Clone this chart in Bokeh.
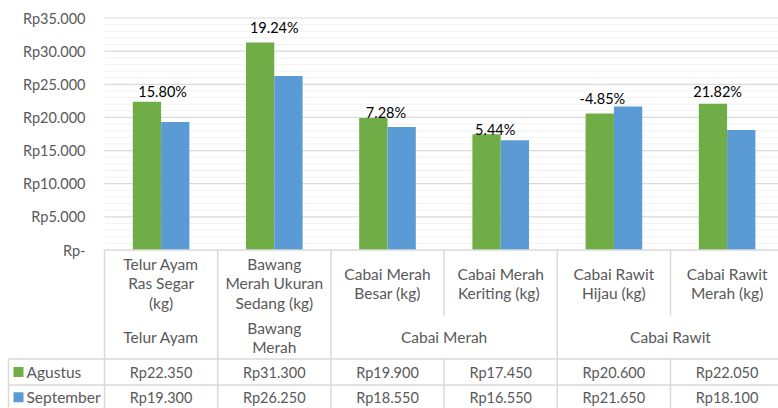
from bokeh.plotting import figure
from bokeh.models import Range1d
from bokeh.core.properties import value
from bokeh.embed import file_html
from bokeh.resources import INLINE

# --- data -------------------------------------------------------------
items = [
    "Telur Ayam\nRas Segar\n(kg)",
    "Bawang\nMerah Ukuran\nSedang (kg)",
    "Cabai Merah\nBesar (kg)",
    "Cabai Merah\nKeriting  (kg)",
    "Cabai Rawit\nHijau (kg)",
    "Cabai Rawit\nMerah (kg)",
]
item_group = [0, 1, 2, 2, 3, 3]
groups = ["Telur Ayam", "Bawang\nMerah", "Cabai Merah", "Cabai Rawit"]
series_names = ["Agustus", "September"]
agustus = [22350, 31300, 19900, 17450, 20600, 22050]
september = [19300, 26250, 18550, 16550, 21650, 18100]
y_ticks = [0, 5000, 10000, 15000, 20000, 25000, 30000, 35000]
y_tick_labels = ["Rp-", "Rp5.000", "Rp10.000", "Rp15.000", "Rp20.000",
                 "Rp25.000", "Rp30.000", "Rp35.000"]

# --- layout (pixels) ---------------------------------------------------
W, H = 778, 408
PLOT_L, CAT_W = 104, 113.2
PLOT_TOP, PLOT_BOT = 17.5, 249.5
Y_MAX = 35000
ROW_CAT_END = 315
ROW_DATA = [358.5, 384.5]
TABLE_L = 8
BAR_W = 0.25

GREEN, BLUE = "#70AD47", "#5B9BD5"
GRID_MAJOR, GRID_MINOR = "#D9D9D9", "#F2F2F2"
BORDER = "#D9D9D9"
TEXT = "#595959"
FONT = value("Lato")
NUM_SIZE = value("14.5px")
WORD_SIZE = value("15.5px")
LINE_H = 1.08

# nudges for the change labels above each pair of bars (px)
label_dx = [1.5, 0, -1.5, -5.5, -11.5, -9.5]
label_gap = [10, 15, 6, 5, 8, 12]


def px_x(px):
    return (px - PLOT_L) / CAT_W


n = len(items)
per_px = Y_MAX / (PLOT_BOT - PLOT_TOP)

p = figure(width=W, height=H, output_backend="svg", toolbar_location=None,
           x_range=Range1d(px_x(0), px_x(W)), y_range=Range1d(H, 0),
           min_border=0, x_axis_location=None, y_axis_location=None)
p.extra_y_ranges = {"val": Range1d(-(H - PLOT_BOT) * per_px,
                                   Y_MAX + PLOT_TOP * per_px)}
p.outline_line_color = None
p.xgrid.visible = False
p.ygrid.visible = False
p.background_fill_color = "white"
p.border_fill_color = "white"

# value gridlines: minor every 1000, major every 5000
minor = [v for v in range(1000, Y_MAX + 1, 1000) if v % 5000]
major = [v for v in y_ticks if v > 0]
p.segment(x0=[0] * len(minor), x1=[n] * len(minor), y0=minor, y1=minor,
          y_range_name="val", line_color=GRID_MINOR, line_width=1)
p.segment(x0=[0] * len(major), x1=[n] * len(major), y0=major, y1=major,
          y_range_name="val", line_color=GRID_MAJOR, line_width=1.2)

# bars
centers = [i + 0.5 for i in range(n)]
p.vbar(x=[c - BAR_W / 2 for c in centers], width=BAR_W, top=agustus, bottom=0,
       y_range_name="val", fill_color=GREEN, line_color=None)
p.vbar(x=[c + BAR_W / 2 for c in centers], width=BAR_W, top=september, bottom=0,
       y_range_name="val", fill_color=BLUE, line_color=None)

# month-over-month change labels
changes = ["{:.2f}%".format((a - s) / s * 100) for a, s in zip(agustus, september)]
p.text(x=centers, y=[max(a, s) for a, s in zip(agustus, september)],
       text=changes, y_range_name="val", x_offset=label_dx,
       y_offset=[-g for g in label_gap], text_align="center",
       text_baseline="alphabetic", text_font=FONT, text_font_size=NUM_SIZE,
       text_color="#000000")

# y tick labels
p.text(x=[px_x(85)] * len(y_ticks), y=y_ticks, text=y_tick_labels,
       y_range_name="val", text_align="right", text_baseline="middle",
       text_font=FONT, text_font_size=NUM_SIZE, text_color=TEXT)

# --- data table below the bars ----------------------------------------
# horizontal rules
hx0 = [0, px_x(TABLE_L), px_x(TABLE_L)]
hy = [PLOT_BOT, ROW_DATA[0], ROW_DATA[1]]
p.segment(x0=hx0, x1=[px_x(W + 10)] * 3, y0=hy, y1=hy,
          line_color=BORDER, line_width=1.5)

# vertical rules: group boundaries run the full height, the others skip
# the group-name row
vx0, vy0, vy1 = [px_x(TABLE_L)], [ROW_DATA[0]], [H]
vx0.append(0); vy0.append(PLOT_BOT); vy1.append(H)
for i in range(1, n):
    if item_group[i] != item_group[i - 1]:
        vx0.append(i); vy0.append(PLOT_BOT); vy1.append(H)
    else:
        vx0 += [i, i]; vy0 += [PLOT_BOT, ROW_DATA[0]]; vy1 += [ROW_CAT_END, H]
p.segment(x0=vx0, x1=vx0, y0=vy0, y1=vy1, line_color=BORDER, line_width=1.5)

# item names
p.text(x=centers, y=[(PLOT_BOT + ROW_CAT_END) / 2 + 0.5] * n, text=items,
       text_align="center", text_baseline="middle", text_line_height=LINE_H,
       text_font=FONT, text_font_size=WORD_SIZE, text_color=TEXT)

# group names centred over their items
g_x = []
for g in range(len(groups)):
    idx = [i for i in range(n) if item_group[i] == g]
    g_x.append((idx[0] + idx[-1] + 1) / 2)
p.text(x=g_x, y=[(ROW_CAT_END + ROW_DATA[0]) / 2] * len(groups), text=groups,
       text_align="center", text_baseline="middle", text_line_height=LINE_H,
       text_font=FONT, text_font_size=WORD_SIZE, text_color=TEXT)


def rupiah(v):
    return "Rp{:,}".format(v).replace(",", ".")


row_y = [(ROW_DATA[0] + ROW_DATA[1]) / 2, (ROW_DATA[1] + H) / 2 + 0.5]
for vals, ry in zip([agustus, september], row_y):
    p.text(x=centers, y=[ry] * n, text=[rupiah(v) for v in vals],
           text_align="center", text_baseline="middle",
           text_font=FONT, text_font_size=NUM_SIZE, text_color=TEXT)

# legend keys in the table's first column
p.scatter(x=[px_x(18)] * 2, y=row_y, marker="square", size=10,
          fill_color=[GREEN, BLUE], line_color=None)
p.text(x=[px_x(26)] * 2, y=row_y, text=series_names, text_align="left",
       text_baseline="middle", text_font=FONT, text_font_size=WORD_SIZE,
       text_color=TEXT)

open("out.html", "w").write(file_html(p, INLINE))
